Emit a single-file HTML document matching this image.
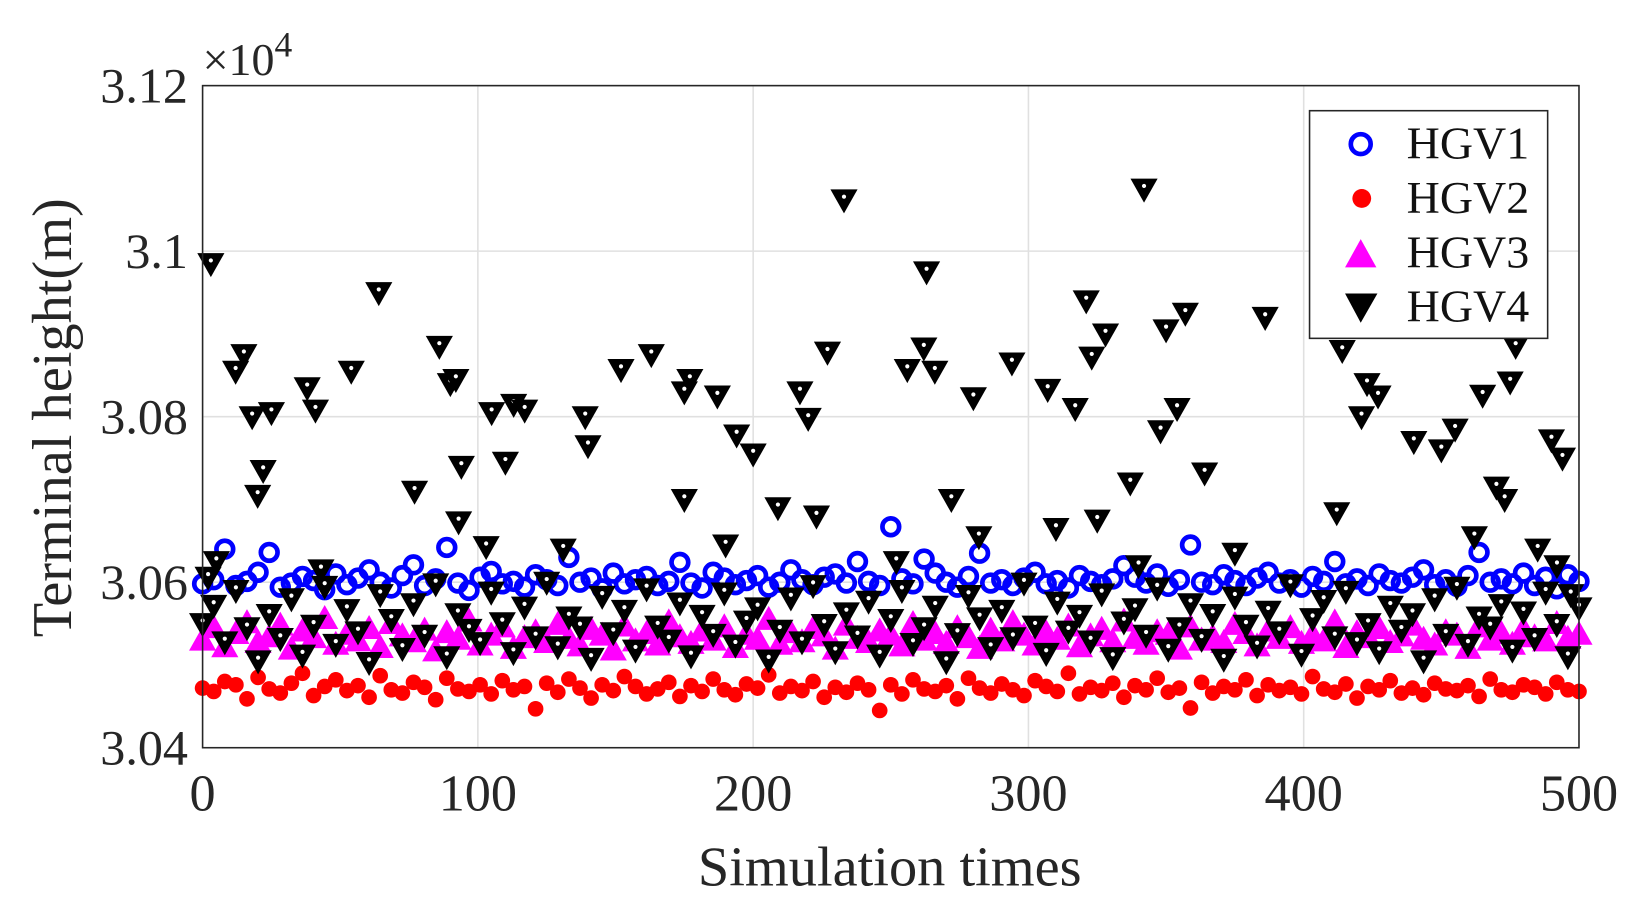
<!DOCTYPE html>
<html><head><meta charset="utf-8"><style>
html,body{margin:0;padding:0;background:#fff;}
svg{display:block;font-family:"Liberation Serif",serif;}
</style></head><body>
<svg id="chart" width="1629" height="909">
<g transform="scale(1.0443)">
<g id="grid"></g>
<g id="marks"></g>
<rect x="194" y="82" width="1318" height="634" fill="none" stroke="#262626" stroke-width="1.5"/>
<g id="ticks"></g>
<text x="194" y="72" font-size="44" fill="#262626">×10<tspan dy="-18" font-size="34">4</tspan></text>
<text x="852" y="848" font-size="54" text-anchor="middle" fill="#262626">Simulation times</text>
<text transform="translate(68,400) rotate(-90)" font-size="54" text-anchor="middle" fill="#262626">Terminal height(m)</text>
<g>
<rect x="1254" y="106" width="228" height="218" fill="#fff" stroke="#262626" stroke-width="1.5"/>
<circle cx="1303" cy="138" r="9.5" fill="none" stroke="#0000ff" stroke-width="4.5"/>
<text x="1347" y="152" font-size="44" fill="#111">HGV1</text>
<circle cx="1304" cy="190" r="9" fill="#ff0000"/>
<text x="1347" y="204" font-size="44" fill="#111">HGV2</text>
<polygon points="1303,229 1318,256 1288,256" fill="#ff00ff"/>
<text x="1347" y="256" font-size="44" fill="#111">HGV3</text>
<polygon points="1288,281 1319,281 1303,309" fill="#000"/>
<text x="1347" y="308" font-size="44" fill="#111">HGV4</text>
</g>
</g>
</svg>
<script>
const BASE = 30000;
const xTicks = [0,100,200,300,400,500];
const yTicks = [30400,30600,30800,31000,31200];
const yTickLabels = ["3.04","3.06","3.08","3.1","3.12"];
const hgv1 = [598,603,640,596,601,612,636,594,599,607,602,591,610,597,605,615,600,593,608,621,596,604,642,599,590,606,613,598,601,594,609,603,596,630,600,605,592,611,598,603,607,596,601,624,599,593,612,605,597,602,608,594,600,615,603,597,606,610,599,625,601,596,667,604,598,628,611,600,594,607,635,599,603,596,605,612,598,602,593,608,601,597,604,620,606,599,610,595,603,645,600,597,609,602,596,605,612,599,603,594,607,601,625,598,604,596,610,602,599,606,615,597,603,595,608,636,600,604,598,611,596,606,592,609,601];
const hgv2 = [472,468,480,476,459,485,471,466,478,490,463,474,482,469,475,461,487,470,466,479,473,458,484,471,468,476,465,481,470,474,447,478,467,483,472,460,476,469,486,474,465,471,479,462,475,468,483,470,464,477,472,488,466,474,469,480,461,473,467,478,470,445,476,465,482,471,468,475,459,484,472,466,477,470,463,481,474,468,490,465,473,469,478,461,475,470,484,467,472,448,479,466,474,470,482,463,476,469,473,465,486,471,467,477,460,474,470,481,466,472,464,478,471,469,475,462,483,470,467,476,473,465,479,470,468];
const hgv3 = [530,545,522,538,551,527,534,548,519,541,533,556,525,537,529,544,521,550,535,528,542,517,539,531,553,524,536,546,520,533,540,527,549,532,523,543,536,518,547,529,538,524,552,534,526,541,530,546,521,537,531,555,525,539,528,544,535,519,548,532,527,541,536,523,550,530,538,526,545,533,520,542,529,551,536,524,539,531,547,522,535,543,528,553,532,525,540,537,519,546,530,534,527,549,538,523,541,532,545,526,536,529,552,521,539,533,544,527,535,548,531,524,540,536,520,546,530,538,525,543,534,529,550,532,537];
const hgv4 = [550,572,528,590,545,505,561,532,580,512,548,595,525,567,540,503,585,555,520,574,536,598,510,562,543,527,588,551,515,570,534,600,522,558,546,508,583,539,566,518,592,547,530,575,511,560,537,587,524,553,569,506,542,581,528,596,549,516,563,535,577,512,555,590,526,545,571,504,538,584,557,521,566,533,599,547,514,576,541,560,529,586,509,552,568,536,593,519,545,574,531,561,507,582,548,523,565,540,597,513,556,578,534,589,527,550,516,571,542,562,505,580,537,594,525,558,546,573,518,564,532,588,549,510,569];
const hgv4OutX = [3,2,5,12,15,18,20,22,25,38,41,43,54,64,77,86,90,92,93,94,103,105,110,113,117,131,139,140,152,163,175,175,177,187,190,194,200,209,217,220,223,227,233,252,256,262,263,266,272,280,282,294,307,310,317,321,323,325,328,337,340,342,348,350,354,357,364,375,386,412,414,421,423,427,440,450,455,462,465,470,473,475,477,485,490,492,494,497];
const hgv4OutY = [985,606,625,855,875,800,705,735,805,835,808,615,855,950,710,885,840,845,673,740,643,805,745,815,808,640,800,765,857,875,830,700,845,825,645,778,755,690,830,798,680,878,1062,625,857,883,975,855,700,823,655,865,833,665,810,940,872,675,900,720,620,1075,783,905,810,925,732,635,920,684,880,800,840,825,770,760,785,655,826,715,700,842,885,640,772,620,750,585];

const NS="http://www.w3.org/2000/svg";
const X0=194,X1=1512,Y0=716,Y1=82;
function sx(v){return X0+(v-0)/500*(X1-X0);}
function sy(v){return Y0-(v-30400)/800*(Y0-Y1);}
function mk(tag,attrs,parent){const e=document.createElementNS(NS,tag);for(const k in attrs)e.setAttribute(k,attrs[k]);parent.appendChild(e);return e;}
const grid=document.getElementById('grid'),ticks=document.getElementById('ticks'),marks=document.getElementById('marks');
xTicks.forEach(t=>{
  const l=mk('line',{x1:sx(t),x2:sx(t),y1:Y1,y2:Y0,stroke:'#e0e0e0','stroke-width':1.5},grid);
  
  
  const tx=mk('text',{x:sx(t),y:776,'font-size':50,'text-anchor':'middle',fill:'#262626'},ticks);
  tx.textContent=t;
  
  
});
yTicks.forEach((t,i)=>{
  const l=mk('line',{x1:X0,x2:X1,y1:sy(t),y2:sy(t),stroke:'#e0e0e0','stroke-width':1.5},grid);
  
  
  const tx=mk('text',{x:180,y:sy(t)+16,'font-size':48,'text-anchor':'end',fill:'#262626'},ticks);
  tx.textContent=yTickLabels[i];
  
  
});
function xs(arr,i){return sx(i*500/(arr.length-1));}
hgv1.forEach((v,i)=>{
  const c=mk('circle',{cx:xs(hgv1,i),cy:sy(BASE+v),r:8,fill:'none',stroke:'#0000ff','stroke-width':4.5},marks);
  
  
});
hgv2.forEach((v,i)=>{
  const c=mk('circle',{cx:xs(hgv2,i),cy:sy(BASE+v),r:7.5,fill:'#ff0000'},marks);
  
  
});
hgv3.forEach((v,i)=>{
  const x=xs(hgv3,i),y=sy(BASE+v);
  const p=mk('polygon',{points:`${x},${y-13} ${x+13},${y+10} ${x-13},${y+10}`,fill:'#ff00ff'},marks);
  
  
});
function down(x,y){
  const p=mk('polygon',{points:`${x-13},${y-10} ${x+13},${y-10} ${x},${y+13}`,fill:'#000'},marks);
  
  
  mk('circle',{cx:x,cy:y-3,r:2,fill:'#fff'},marks);
}
hgv4.forEach((v,i)=>down(xs(hgv4,i),sy(BASE+v)));
hgv4OutX.forEach((t,i)=>down(sx(t),sy(BASE+hgv4OutY[i])));
</script>
</body></html>
